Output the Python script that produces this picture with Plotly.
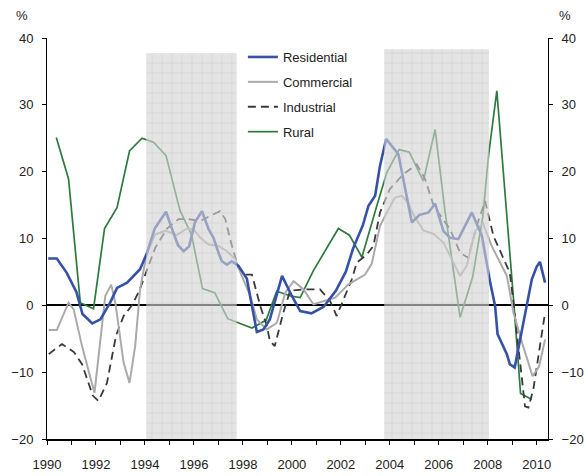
import plotly.graph_objects as go

# ---------------- data ----------------
res_x = [1990.05, 1990.4, 1990.8, 1991.2, 1991.45, 1991.85, 1992.18, 1992.58, 1992.86, 1993.27,
         1993.8, 1994.08, 1994.4, 1994.86, 1995.1, 1995.35, 1995.58, 1995.8, 1996.05, 1996.33,
         1996.6, 1996.8, 1997.0, 1997.14, 1997.35, 1997.55, 1997.82, 1998.16, 1998.57, 1998.84,
         1999.1, 1999.6, 2000.0, 2000.34, 2000.8, 2001.3, 2001.8, 2002.2, 2002.5, 2002.9,
         2003.13, 2003.4, 2003.6, 2003.85, 2004.35, 2004.9, 2005.2, 2005.58, 2005.85, 2006.19,
         2006.46, 2006.8, 2007.35, 2007.76, 2008.1, 2008.3, 2008.4, 2008.78, 2008.9, 2009.1,
         2009.39, 2009.8, 2010.0, 2010.13, 2010.34]
res_y = [7.0, 7.0, 4.9, 2.0, -1.3, -2.7, -2.1, 0.4, 2.6, 3.4,
         5.4, 7.8, 11.5, 14.0, 11.5, 9.0, 8.1, 8.8, 12.5, 14.1,
         11.4, 10.1, 7.9, 6.6, 6.1, 6.6, 5.9, 4.0, -4.0, -3.6,
         -2.1, 4.4, 1.4, -0.85, -1.2, -0.2, 2.2, 5.0, 8.5, 12.0,
         14.9, 16.4, 20.9, 24.9, 22.6, 12.4, 13.5, 13.9, 15.2, 11.1,
         10.1, 9.9, 13.9, 10.4, 3.4, -0.1, -4.3, -7.3, -8.8, -9.3,
         -3.8, 3.9, 5.8, 6.5, 3.4]

com_x = [1990.07, 1990.4, 1990.88, 1991.09, 1991.43, 1991.94, 1992.38, 1992.62, 1992.79, 1993.13,
         1993.37, 1993.6, 1993.8, 1994.08, 1994.42, 1994.85, 1995.3, 1995.71, 1995.98, 1996.26,
         1996.6, 1997.0, 1997.35, 1997.69, 1997.9, 1998.3, 1998.57, 1998.98, 1999.39, 1999.73,
         2000.07, 2000.47, 2000.88, 2001.29, 2001.77, 2002.3, 2002.65, 2002.99, 2003.26, 2003.6,
         2003.88, 2004.2, 2004.49, 2004.75, 2004.96, 2005.37, 2005.78, 2006.19, 2006.53, 2006.87,
         2007.14, 2007.48, 2007.8, 2008.16, 2008.78, 2009.05, 2009.42, 2009.83, 2010.1, 2010.34]
com_y = [-3.7, -3.7, 0.4, -0.6, -6.1, -13.1, 1.4, 3.1, 0.4, -8.6,
         -11.6, -6.1, 2.4, 7.9, 10.6, 11.2, 10.5, 11.5, 11.4, 10.1,
         9.1, 8.9, 8.1, 6.9, 4.9, 1.4, -2.1, -3.6, -2.6, 1.9,
         3.6, 2.4, 0.15, 0.65, 1.15, 3.1, 3.9, 4.6, 6.2, 11.9,
         13.9, 16.1, 16.4, 15.3, 13.6, 11.2, 10.7, 9.4, 6.9, 4.4,
         5.9, 11.1, 12.3, 8.9, 4.4, -1.1, -5.8, -10.6, -9.1, -5.1]

ind_x = [1990.07, 1990.61, 1991.1, 1991.43, 1991.87, 1992.1, 1992.45, 1992.82, 1993.13, 1993.47,
         1993.77, 1994.08, 1994.42, 1994.9, 1995.37, 1995.78, 1996.26, 1996.67, 1997.07, 1997.28,
         1997.55, 1997.82, 1998.1, 1998.37, 1998.71, 1998.98, 1999.1, 1999.3, 1999.65, 1999.93,
         2000.6, 2001.15, 2001.56, 2001.83, 2002.24, 2002.45, 2002.65, 2003.06, 2003.33, 2003.6,
         2004.0, 2004.55, 2005.1, 2005.44, 2005.8, 2006.46, 2006.87, 2007.2, 2007.55, 2007.89,
         2008.23, 2008.9, 2009.05, 2009.52, 2009.66, 2009.86, 2010.13, 2010.34]
ind_y = [-7.3, -5.8, -7.0, -8.8, -13.5, -14.3, -11.6, -4.5, -1.6, 0.0,
         2.2, 5.4, 8.6, 11.5, 12.9, 12.9, 12.6, 13.4, 14.1, 12.9,
         8.9, 5.6, 4.6, 4.6, -0.1, -3.1, -5.3, -6.1, -1.1, 2.2,
         2.4, 2.4, 0.65, -1.6, 1.9, 3.9, 6.4, 7.6, 8.9, 13.9,
         17.4, 19.6, 21.1, 18.9, 14.8, 11.4, 7.9, 7.1, 11.9, 15.6,
         10.4, 4.9, 0.4, -15.1, -15.3, -12.6, -6.1, -1.1]

rur_x = [1990.38, 1990.88, 1991.36, 1991.9, 1992.35, 1992.86, 1993.37, 1993.88, 1994.35, 1994.86,
         1995.43, 1995.9, 1996.35, 1996.85, 1997.38, 1998.37, 1998.95, 1999.38, 1999.95, 2000.34,
         2000.88, 2001.9, 2002.35, 2002.86, 2003.47, 2003.88, 2004.38, 2004.8, 2005.37, 2005.85,
         2006.26, 2006.6, 2006.87, 2007.38, 2007.8, 2008.03, 2008.37, 2009.05, 2009.34, 2009.8]
rur_y = [25.1, 18.9, 0.4, -0.5, 11.5, 14.6, 23.1, 25.0, 24.4, 22.4,
         14.2, 10.6, 2.5, 1.9, -2.0, -3.4, -2.2, 2.1, 1.4, 1.15,
         5.2, 11.5, 10.5, 7.2, 14.9, 19.9, 23.3, 22.9, 18.6, 26.3,
         13.9, 5.4, -1.8, 4.2, 13.3, 22.4, 32.1, 1.0, -13.2, -14.1]

# shaded periods (start, end, top)
shade_start = [1994.05, 2003.77]
shade_end = [1997.75, 2008.05]
shade_top = [37.7, 38.3]
shade_bottom = -20

x_ticks = list(range(1990, 2011))
x_ticktext = [str(v) if v % 2 == 0 else "" for v in x_ticks]
y_ticks = [-20, -10, 0, 10, 20, 30, 40]

# ---------------- figure ----------------
fig = go.Figure()

# invisible trace to activate the right axis
fig.add_trace(go.Scatter(x=res_x, y=res_y, yaxis="y2", mode="lines",
                         line=dict(width=0, color="rgba(0,0,0,0)"),
                         showlegend=False, hoverinfo="skip"))

fig.add_trace(go.Scatter(x=rur_x, y=rur_y, name="Rural", mode="lines",
                         line=dict(color="#2c7a3c", width=1.7),
                         legendrank=4, legendgroup="d"))
fig.add_trace(go.Scatter(x=ind_x, y=ind_y, name="Industrial", mode="lines",
                         line=dict(color="#3a3a3a", width=1.8, dash="8px,5px"),
                         legendrank=3, legendgroup="c"))
fig.add_trace(go.Scatter(x=com_x, y=com_y, name="Commercial", mode="lines",
                         line=dict(color="#aaaaaa", width=2),
                         legendrank=2, legendgroup="b"))
fig.add_trace(go.Scatter(x=res_x, y=res_y, name="Residential", mode="lines",
                         line=dict(color="#3551a8", width=2.6),
                         legendrank=1, legendgroup="a"))

for s, e, t in zip(shade_start, shade_end, shade_top):
    fig.add_trace(go.Scatter(
        x=[s, e, e, s, s], y=[shade_bottom, shade_bottom, t, t, shade_bottom],
        mode="lines", line=dict(width=0), fill="toself",
        fillcolor="rgba(212,212,212,0.6)",
        fillpattern=dict(shape="+", size=10, solidity=0.06,
                         fgcolor="rgba(170,170,170,0.75)",
                         bgcolor="rgba(212,212,212,0.62)", fillmode="replace"),
        showlegend=False, hoverinfo="skip"))

axis_font = dict(family="Liberation Sans, Arial, sans-serif", size=13, color="#222222")

fig.update_layout(
    width=587, height=476,
    margin=dict(l=47, r=39, t=38, b=37, autoexpand=False),
    paper_bgcolor="white", plot_bgcolor="white",
    font=axis_font,
    showlegend=True,
    legend=dict(x=0.391, y=0.99, xanchor="left", yanchor="top",
                bgcolor="rgba(0,0,0,0)", itemwidth=30, tracegroupgap=5,
                font=dict(family="Liberation Sans, Arial, sans-serif", size=13, color="#222222")),
    xaxis=dict(range=[1990, 2010.46], tickvals=x_ticks, ticktext=x_ticktext,
               ticks="outside", ticklen=4, tickcolor="black",
               showline=True, linewidth=2, linecolor="black", automargin=False,
               showgrid=False, zeroline=False, ticklabelstandoff=8,
               tickfont=axis_font),
    yaxis=dict(range=[-20, 40], tickvals=y_ticks, ticks="outside", ticklen=4,
               tickcolor="black", showline=True, linewidth=1, linecolor="black",
               showgrid=False, zeroline=True, zerolinecolor="black", zerolinewidth=2,
               ticklabelstandoff=6, tickfont=axis_font, automargin=False),
    yaxis2=dict(range=[-20, 40], tickvals=y_ticks, ticks="outside", ticklen=4,
                tickcolor="black", showline=True, linewidth=1, linecolor="black",
                showgrid=False, zeroline=False, overlaying="y", side="right",
                ticklabelstandoff=6, tickfont=axis_font, automargin=False),
    annotations=[
        dict(text="%", xref="paper", yref="paper", x=-0.05, y=1.057,
             xanchor="center", yanchor="middle", showarrow=False, font=axis_font),
        dict(text="%", xref="paper", yref="paper", x=1.034, y=1.057,
             xanchor="center", yanchor="middle", showarrow=False, font=axis_font),
    ],
)

fig.write_html("out.html",
               config={"displayModeBar": False},
               post_script="document.body.style.margin='0';document.body.style.overflow='hidden';")
